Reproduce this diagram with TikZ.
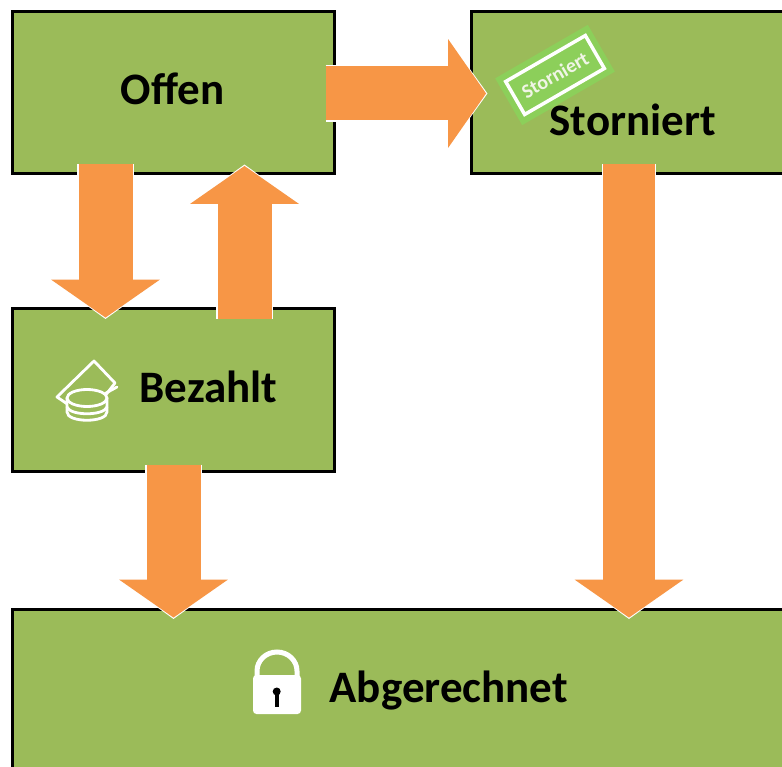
\documentclass[tikz,border=0pt]{standalone}
\usepackage{fontspec}
\setmainfont{Carlito}
\usetikzlibrary{arrows.meta}
\definecolor{boxgreen}{HTML}{9BBB59}
\definecolor{flow}{HTML}{F79646}
\definecolor{stampgreen}{HTML}{8CCF5A}
\tikzset{
  statebox/.style={draw=black,line width=3pt,fill=boxgreen,inner sep=0pt,anchor=north west},
  statelabel/.style={font=\fontsize{45}{48}\selectfont\bfseries,text=black,inner sep=0pt,anchor=base west},
  flowedge/.style={line width=#1+2.5pt,color=white,-{Triangle[length=41pt,width=112pt,color=white]}},
  flowcore/.style={line width=#1,color=flow,shorten >=1.4pt,-{Triangle[length=38pt,width=107pt,color=flow]}},
  iconline/.style={draw=white,line width=2.8pt,line join=round,line cap=round},
}
\newcommand{\flowarrow}[3][54pt]{%
  \draw[flowedge=#1] (#2) -- (#3);
  \draw[flowcore=#1] (#2) -- (#3);
}
\begin{document}
\begin{tikzpicture}[x=1pt,y=-1pt]
\useasboundingbox (0,0) rectangle (782,767);
\clip (0,0) rectangle (782,767);
\fill[white] (0,0) rectangle (782,767);
% boxes
\node[statebox,minimum width=322pt,minimum height=161.5pt] (offen) at (11,10.5) {};
\node[statebox,minimum width=340pt,minimum height=161.5pt] (storniert) at (470,10.5) {};
\node[statebox,minimum width=322pt,minimum height=162.5pt] (bezahlt) at (11,307.5) {};
\node[statebox,minimum width=800pt,minimum height=180pt] (abgerechnet) at (11,607.5) {};
% stamp
\node[fill=stampgreen,minimum width=107pt,minimum height=54pt,rotate=30,inner sep=0pt] (stampbg) at (555,75) {};
\node[draw=white,line width=3.5pt,minimum width=92pt,minimum height=38pt,rotate=30,inner sep=0pt,
      font=\fontsize{20}{22}\selectfont\bfseries,text=white!85!boxgreen] (stamp) at (555,75) {Storniert};
% labels
\node[statelabel] (offenlabel) at (120.5,105) {Offen};
\node[statelabel] (stornolabel) at (549.5,136) {Storniert};
\node[statelabel] (bezahltlabel) at (139.5,402) {Bezahlt};
\node[statelabel] (abglabel) at (329.5,702) {Abgerechnet};
% coins and note icon
\draw[iconline] (94,361) -- (115,383) -- (88,418) -- (57,397) -- cycle;
\draw[iconline] (117,387) -- (106,393);
\draw[iconline,fill=boxgreen] (67,398) -- (67,412)
  .. controls (67,423) and (107,423) .. (107,412) -- (107,398) -- cycle;
\draw[iconline,fill=boxgreen] (87,398) circle [x radius=20pt,y radius=8.5pt];
\draw[iconline] (67,407) .. controls (70,416) and (104,416) .. (107,407);
% lock icon
\draw[white,line width=5pt] (257,678) -- (257,671) arc[start angle=180,end angle=0,x radius=20pt,y radius=19pt] -- (297,678);
\fill[white,rounded corners=3.5pt] (253,675) rectangle (301,714);
\fill[black] (276.7,691.5) circle[radius=4pt];
\draw[black,line width=3.6pt] (276.7,692) -- (276.7,706.5);
% flow connectors
\coordinate (a1) at (325.5,93.5);  \coordinate (a2) at (487.5,93.5);
\coordinate (b1) at (105.5,164.5); \coordinate (b2) at (105.5,319);
\coordinate (c1) at (244.5,319);   \coordinate (c2) at (244.5,164.5);
\coordinate (d1) at (173.5,464.5); \coordinate (d2) at (173.5,619);
\coordinate (e1) at (629,164.5);   \coordinate (e2) at (629,619);
\flowarrow{a1}{a2}
\flowarrow{b1}{b2}
\flowarrow{c1}{c2}
\flowarrow{d1}{d2}
\flowarrow[52pt]{e1}{e2}
\end{tikzpicture}
\end{document}
